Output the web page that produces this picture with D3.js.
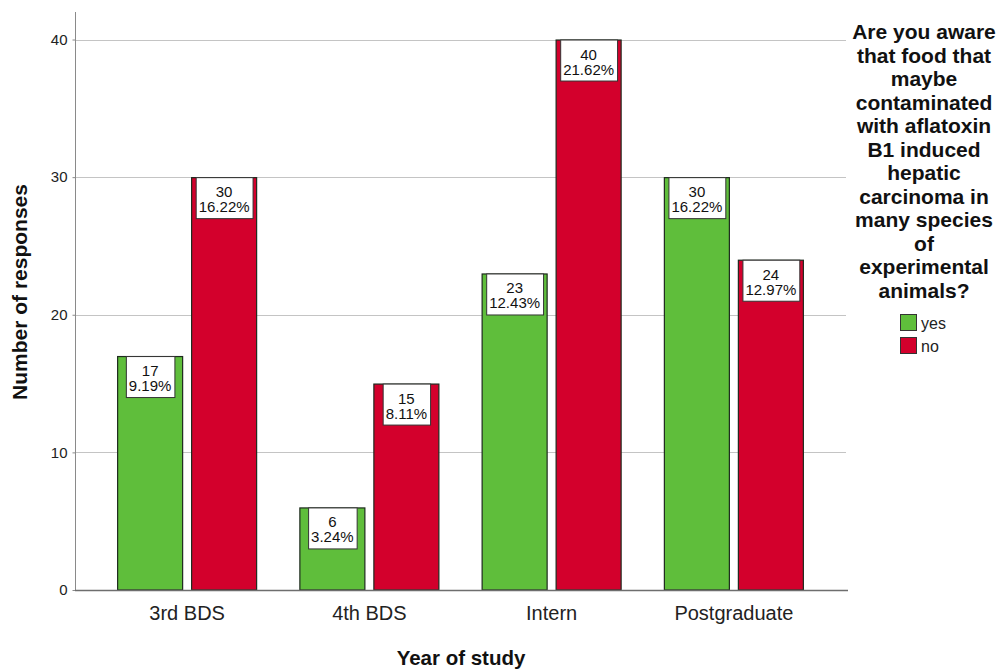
<!DOCTYPE html>
<html>
<head>
<meta charset="utf-8">
<script src="https://cdn.jsdelivr.net/npm/d3@7"></script>
<style>
  html, body { margin: 0; padding: 0; background: #fff; }
  svg { display: block; font-family: "Liberation Sans", Arial, sans-serif; }
</style>
</head>
<body>
<svg id="chart" width="1001" height="670"></svg>
<script>
const categories = ["3rd BDS", "4th BDS", "Intern", "Postgraduate"];
const seriesNames = ["yes", "no"];
const yesValues = [17, 6, 23, 30];
const noValues = [30, 15, 40, 24];
const yesPercents = ["9.19%", "3.24%", "12.43%", "16.22%"];
const noPercents = ["16.22%", "8.11%", "21.62%", "12.97%"];
const yTicks = [0, 10, 20, 30, 40];
const legendTitleLines = ["Are you aware", "that food that", "maybe", "contaminated",
  "with aflatoxin", "B1 induced", "hepatic", "carcinoma in", "many species",
  "of", "experimental", "animals?"];
const colors = { yes: "#5fbe3b", no: "#d3002c" };

(function () {
const svg = d3.select("#chart");
const pLeft = 75, pRight = 846, pTop = 12, pBottom = 590;

const x = d3.scaleBand().domain(categories).range([96, 825]).paddingInner(0).paddingOuter(0);
const c0 = x.bandwidth() / 2;
const xInner = d3.scaleBand().domain(seriesNames).range([c0 - 70, c0 + 70]).paddingInner(0.108);
const y = d3.scaleLinear().domain([0, 42]).range([pBottom, pTop]);

// gridlines
svg.append("g").selectAll("line").data(yTicks.filter(d => d > 0)).join("line")
  .attr("x1", pLeft).attr("x2", pRight)
  .attr("y1", d => Math.round(y(d)) + 0.5).attr("y2", d => Math.round(y(d)) + 0.5)
  .attr("stroke", "#c4c4c4").attr("stroke-width", 1.2);

// y axis
const yAxis = d3.axisLeft(y).tickValues(yTicks).tickSize(3).tickPadding(5).tickFormat(d3.format("d"));
const yg = svg.append("g").attr("transform", `translate(${pLeft + 0.5},0)`).call(yAxis);
yg.select(".domain").attr("stroke", "#8a8a8a").attr("d", `M0,${pTop}V${pBottom}`);
yg.selectAll(".tick line").attr("stroke", "#8a8a8a");
yg.selectAll(".tick text").attr("font-size", 15).attr("fill", "#222")
  .attr("font-family", "Liberation Sans, Arial, sans-serif");

// bars
const data = [];
categories.forEach((c, i) => {
  data.push({ cat: c, s: "yes", v: yesValues[i], p: yesPercents[i] });
  data.push({ cat: c, s: "no", v: noValues[i], p: noPercents[i] });
});

svg.append("g").selectAll("rect").data(data).join("rect")
  .attr("x", d => x(d.cat) + xInner(d.s) + 0.5)
  .attr("y", d => y(d.v) + 0.5)
  .attr("width", xInner.bandwidth() - 1)
  .attr("height", d => pBottom - y(d.v) - 0.5)
  .attr("fill", d => colors[d.s])
  .attr("stroke", "#1e2a1e").attr("stroke-width", 1.2);

// x axis line
svg.append("line").attr("x1", pLeft).attr("x2", pRight + 2)
  .attr("y1", pBottom + 0.5).attr("y2", pBottom + 0.5)
  .attr("stroke", "#6e6e6e").attr("stroke-width", 1.3);

// value labels
const lg = svg.append("g").selectAll("g").data(data).join("g")
  .attr("transform", d => `translate(${x(d.cat) + xInner(d.s) + xInner.bandwidth() / 2},${y(d.v)})`);
lg.each(function (d) {
  const g = d3.select(this);
  const rect = g.append("rect").attr("fill", "#fff").attr("stroke", "#333").attr("stroke-width", 1);
  const t1 = g.append("text").attr("text-anchor", "middle").attr("y", 20).attr("font-size", 15).attr("fill", "#111").text(d.v);
  const t2 = g.append("text").attr("text-anchor", "middle").attr("y", 35).attr("font-size", 15).attr("fill", "#111").text(d.p);
  const w = Math.max(t1.node().getComputedTextLength(), t2.node().getComputedTextLength()) + 6;
  rect.attr("x", -w / 2 + 0.5).attr("y", 0.5).attr("width", w).attr("height", 41);
});

// x tick labels
svg.append("g").selectAll("text").data(categories).join("text")
  .attr("x", d => x(d) + c0).attr("y", 620)
  .attr("text-anchor", "middle").attr("font-size", 20).attr("fill", "#222")
  .text(d => d);

// axis titles
svg.append("text").attr("x", 461).attr("y", 665).attr("text-anchor", "middle")
  .attr("font-size", 20.5).attr("font-weight", "bold").attr("fill", "#111").text("Year of study");
svg.append("text").attr("transform", "translate(27,292) rotate(-90)").attr("text-anchor", "middle")
  .attr("font-size", 21).attr("font-weight", "bold").attr("fill", "#111").text("Number of responses");

// legend title
svg.append("g").selectAll("text").data(legendTitleLines).join("text")
  .attr("x", 924).attr("y", (d, i) => 39 + i * 23.5)
  .attr("text-anchor", "middle").attr("font-size", 21).attr("font-weight", "bold").attr("fill", "#111")
  .text(d => d);

// legend items
const li = svg.append("g").selectAll("g").data(seriesNames).join("g")
  .attr("transform", (d, i) => `translate(900,${314 + i * 23})`);
li.append("rect").attr("x", 0.5).attr("y", 0.5).attr("width", 16).attr("height", 16)
  .attr("fill", d => colors[d]).attr("stroke", "#333").attr("stroke-width", 1);
li.append("text").attr("x", 21).attr("y", 15).attr("font-size", 16).attr("fill", "#222").text(d => d);
})();
</script>
</body>
</html>
